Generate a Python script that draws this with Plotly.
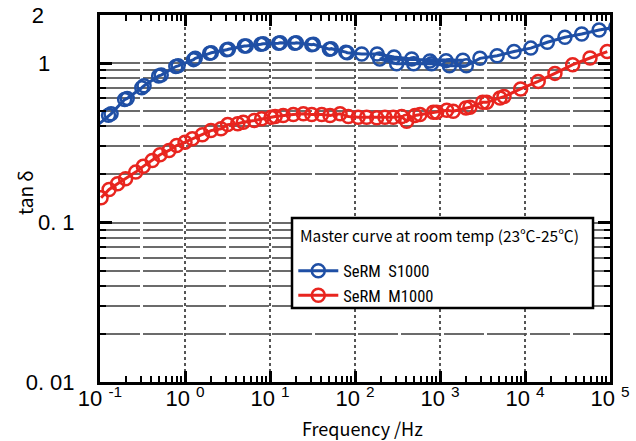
import plotly.graph_objects as go

# ---- data ----
s1000_freq = [0.08, 0.126, 0.135, 0.195, 0.209, 0.31, 0.33, 0.49, 0.525, 0.78, 0.83,
              1.26, 1.32, 1.95, 2.04, 3.1, 3.24, 5.0, 5.25, 7.8, 8.3, 12.6, 13.2,
              19.5, 20.4, 31, 32.4, 50, 52.5, 78, 81, 120, 182, 288, 465, 760, 1180, 1860,
              195, 309, 490, 795, 1290, 2040,
              2950, 4700, 7430, 11700, 18300, 29500, 46500, 74500, 117000]
s1000_tan = [0.38, 0.47, 0.48, 0.59, 0.60, 0.70, 0.72, 0.83, 0.84, 0.95, 0.96,
             1.05, 1.07, 1.15, 1.16, 1.21, 1.22, 1.28, 1.28, 1.31, 1.32, 1.33, 1.34,
             1.33, 1.34, 1.30, 1.31, 1.22, 1.23, 1.17, 1.16, 1.14, 1.14, 1.09, 1.06, 1.03, 1.035, 1.04,
             1.06, 0.99, 0.99, 0.99, 0.96, 0.96,
             1.07, 1.11, 1.18, 1.24, 1.35, 1.45, 1.52, 1.61, 1.68]

m1000_freq = [0.103, 0.128, 0.161, 0.200, 0.263, 0.323, 0.412, 0.508, 0.649, 0.798,
              1.0, 1.22, 1.60, 2.02, 2.65, 3.18, 4.17, 4.85, 6.53, 7.98,
              10.3, 11.5, 14.3, 18.8, 24.7, 31.0, 40.6, 50.8, 66.7, 83.4,
              109, 137, 180, 225, 282, 354, 406, 508, 582, 834, 914,
              1200, 1430, 2020, 2250, 3180, 3540, 5080, 5660, 8890,
              14300, 22500, 36400, 58200, 92900]
m1000_tan = [0.143, 0.161, 0.175, 0.188, 0.207, 0.225, 0.245, 0.266, 0.283, 0.304,
             0.319, 0.335, 0.355, 0.377, 0.387, 0.411, 0.416, 0.425, 0.436, 0.447,
             0.457, 0.462, 0.469, 0.475, 0.48, 0.475, 0.475, 0.469, 0.48, 0.462,
             0.457, 0.457, 0.453, 0.457, 0.457, 0.462, 0.431, 0.469, 0.475, 0.491, 0.491,
             0.505, 0.498, 0.523, 0.528, 0.567, 0.567, 0.604, 0.616, 0.688,
             0.767, 0.861, 0.976, 1.075, 1.18]

x_tickvals = [0.1, 1, 10, 100, 1000, 10000, 100000]
x_ticktext = ["10 <sup>-1</sup>", "10 <sup>0</sup>", "10 <sup>1</sup>", "10 <sup>2</sup>",
              "10 <sup>3</sup>", "10 <sup>4</sup>", "10 <sup>5</sup>"]
y_tickvals = [0.01, 0.1, 1, 2]
y_ticktext = ["0. 01", "0. 1", "1&nbsp;&nbsp;&nbsp;&nbsp;", "2&nbsp;&nbsp;&nbsp;&nbsp;&nbsp;"]
legend_title = "Master curve at room temp (23℃-25℃)"
x_title = "Frequency /Hz"
y_title = "tan δ"

x_minor = [m * 10 ** e for e in range(-1, 5) for m in range(2, 10)]
y_minor = [m * 10 ** e for e in range(-2, 0) for m in range(2, 10)]

BLUE = "#1f4fa5"
RED = "#e8251f"
FONT = "Liberation Sans Narrow, Roboto Condensed, Noto Sans CJK JP, sans-serif"
TICKFONT = "Liberation Sans, Arial, sans-serif"
CJK = "Noto Sans CJK JP, Noto Sans, sans-serif"

fig = go.Figure()
fig.add_trace(go.Scatter(
    x=s1000_freq, y=s1000_tan, name="SeRM&nbsp;&nbsp;S1000", mode="lines+markers",
    line=dict(color=BLUE, width=3),
    marker=dict(symbol="circle-open", size=13, color=BLUE, line=dict(width=2.5, color=BLUE)),
))
fig.add_trace(go.Scatter(
    x=m1000_freq, y=m1000_tan, name="SeRM&nbsp;&nbsp;M1000", mode="lines+markers",
    line=dict(color=RED, width=3),
    marker=dict(symbol="circle-open", size=13, color=RED, line=dict(width=2.5, color=RED)),
))

# legend frame (box + title) drawn around the legend entries
fig.add_shape(type="rect", xref="paper", yref="paper",
              x0=0.3765, x1=0.9667, y0=0.2016, y1=0.4469,
              fillcolor="white", line=dict(color="black", width=2.5), layer="above")
fig.add_annotation(xref="paper", yref="paper", x=0.389, y=0.4005,
                   xanchor="left", yanchor="middle", showarrow=False,
                   text=legend_title, font=dict(family=CJK, size=15.5, color="black"))

# axis titles
fig.add_annotation(xref="paper", yref="paper", x=0.514, y=-0.1253,
                   xanchor="center", yanchor="middle", showarrow=False,
                   text=x_title, font=dict(family=CJK, size=18, color="black"))
fig.add_annotation(xref="paper", yref="paper", x=-0.147, y=0.515,
                   xanchor="center", yanchor="middle", showarrow=False, textangle=-90,
                   text=y_title, font=dict(family=CJK, size=19, color="black"))

fig.update_layout(
    width=636, height=441,
    margin=dict(l=100, r=26, t=15, b=59),
    paper_bgcolor="white", plot_bgcolor="white",
    font=dict(family=FONT, color="black"),
    legend=dict(
        font=dict(family=FONT, size=16.5),
        x=0.379, y=0.35, xanchor="left", yanchor="top",
        bgcolor="rgba(0,0,0,0)", borderwidth=0,
        itemwidth=40,
    ),
    xaxis=dict(
        type="log", range=[-1, 5], automargin=False,
        tickmode="array", tickvals=x_tickvals, ticktext=x_ticktext,
        tickfont=dict(size=22, family=TICKFONT), ticklabelstandoff=-5,
        ticks="inside", ticklen=11, tickwidth=2.5, tickcolor="black",
        showline=True, linewidth=3, linecolor="black", mirror="allticks",
        showgrid=True, gridcolor="#555555", gridwidth=2, griddash="dot",
        zeroline=False,
        minor=dict(tickmode="array", tickvals=x_minor, ticks="inside", ticklen=6,
                   tickwidth=2, tickcolor="black", showgrid=False),
    ),
    yaxis=dict(
        type="log", range=[-2, 0.30103], automargin=False,
        tickmode="array", tickvals=y_tickvals, ticktext=y_ticktext,
        tickfont=dict(size=22, family=TICKFONT), ticklabelstandoff=18,
        ticks="inside", ticklen=12, tickwidth=3, tickcolor="black",
        showline=True, linewidth=3, linecolor="black", mirror="allticks",
        showgrid=True, gridcolor="#6b6b6b", gridwidth=2, griddash="40px,3px",
        zeroline=False,
        minor=dict(tickmode="array", tickvals=y_minor, ticks="inside",
                   ticklen=6, tickwidth=2, tickcolor="black",
                   showgrid=True, gridcolor="#6b6b6b", gridwidth=2, griddash="40px,3px"),
    ),
)

fig.write_html("out.html")
